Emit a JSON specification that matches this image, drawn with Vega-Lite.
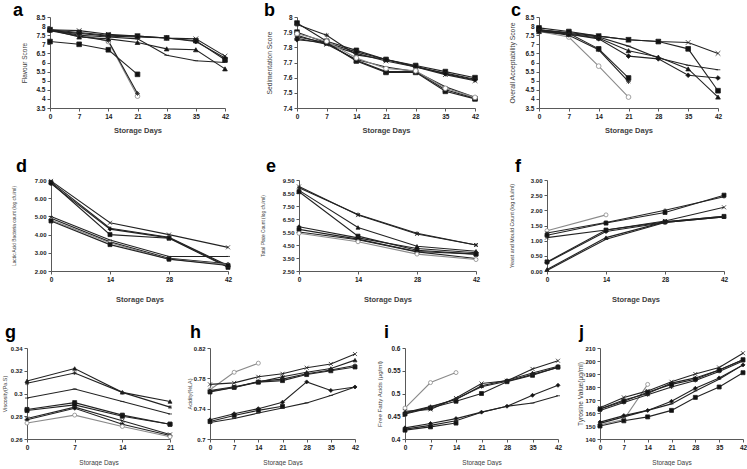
{
  "$schema": "https://vega.github.io/schema/vega-lite/v6.json",
  "padding": {"left": 1, "top": 2, "right": 0, "bottom": 0},
  "background": "white",
  "config": {
    "view": {"stroke": null},
    "font": "Liberation Sans",
    "axis": {"domainColor": "#595959", "tickColor": "#595959", "tickSize": 3, "labelFont": "Liberation Sans", "labelFontSize": 6.5, "labelFontWeight": "bold", "labelColor": "#1a1a1a", "labelPadding": 2, "labelOverlap": false, "labelFlush": false, "titleFont": "Liberation Sans", "titleFontWeight": "normal", "titleColor": "#404040", "grid": false},
    "axisX": {"titlePadding": 7, "titleFontSize": 6.5},
    "title": {"anchor": "start", "frame": "group", "fontSize": 18, "fontWeight": "bold", "font": "Liberation Sans", "color": "#000"},
    "concat": {"spacing": 0}
  },
  "datasets": {
    "a": [
      {"d":0,"s":"s1","v":7.8},{"d":7,"s":"s1","v":7.55},{"d":14,"s":"s1","v":7.15},{"d":21,"s":"s1","v":4.15},
      {"d":0,"s":"s2","v":7.75},{"d":7,"s":"s2","v":7.45},{"d":14,"s":"s2","v":7.2},{"d":21,"s":"s2","v":4.3},
      {"d":0,"s":"s3","v":7.15},{"d":7,"s":"s3","v":7.0},{"d":14,"s":"s3","v":6.7},{"d":21,"s":"s3","v":5.35},
      {"d":0,"s":"s4","v":7.8},{"d":7,"s":"s4","v":7.75},{"d":14,"s":"s4","v":7.55},{"d":21,"s":"s4","v":7.45},{"d":28,"s":"s4","v":7.35},{"d":35,"s":"s4","v":7.3},{"d":42,"s":"s4","v":6.35},
      {"d":0,"s":"s5","v":7.8},{"d":7,"s":"s5","v":7.65},{"d":14,"s":"s5","v":7.5},{"d":21,"s":"s5","v":7.45},{"d":28,"s":"s5","v":7.35},{"d":35,"s":"s5","v":7.2},{"d":42,"s":"s5","v":6.15},
      {"d":0,"s":"s6","v":7.75},{"d":7,"s":"s6","v":7.6},{"d":14,"s":"s6","v":7.45},{"d":21,"s":"s6","v":7.4},{"d":28,"s":"s6","v":7.35},{"d":35,"s":"s6","v":7.15},{"d":42,"s":"s6","v":6.25},
      {"d":0,"s":"s7","v":7.8},{"d":7,"s":"s7","v":7.4},{"d":14,"s":"s7","v":7.3},{"d":21,"s":"s7","v":7.1},{"d":28,"s":"s7","v":6.75},{"d":35,"s":"s7","v":6.7},{"d":42,"s":"s7","v":5.65},
      {"d":0,"s":"s8","v":7.8},{"d":7,"s":"s8","v":7.5},{"d":14,"s":"s8","v":7.4},{"d":21,"s":"s8","v":7.3},{"d":28,"s":"s8","v":6.4},{"d":35,"s":"s8","v":6.1},{"d":42,"s":"s8","v":6.0}
    ],
    "b": [
      {"d":0,"s":"s5","v":7.96},{"d":7,"s":"s5","v":7.84},{"d":14,"s":"s5","v":7.78},{"d":21,"s":"s5","v":7.72},{"d":28,"s":"s5","v":7.68},{"d":35,"s":"s5","v":7.64},{"d":42,"s":"s5","v":7.6},
      {"d":0,"s":"s2","v":7.95},{"d":7,"s":"s2","v":7.88},{"d":14,"s":"s2","v":7.75},{"d":21,"s":"s2","v":7.72},{"d":28,"s":"s2","v":7.67},{"d":35,"s":"s2","v":7.63},{"d":42,"s":"s2","v":7.59},
      {"d":0,"s":"s4","v":7.86},{"d":7,"s":"s4","v":7.82},{"d":14,"s":"s4","v":7.76},{"d":21,"s":"s4","v":7.71},{"d":28,"s":"s4","v":7.67},{"d":35,"s":"s4","v":7.62},{"d":42,"s":"s4","v":7.58},
      {"d":0,"s":"s6","v":7.85},{"d":7,"s":"s6","v":7.83},{"d":14,"s":"s6","v":7.77},{"d":21,"s":"s6","v":7.72},{"d":28,"s":"s6","v":7.675},{"d":35,"s":"s6","v":7.625},{"d":42,"s":"s6","v":7.585},
      {"d":0,"s":"s3","v":7.9},{"d":7,"s":"s3","v":7.83},{"d":14,"s":"s3","v":7.71},{"d":21,"s":"s3","v":7.635},{"d":28,"s":"s3","v":7.635},{"d":35,"s":"s3","v":7.51},{"d":42,"s":"s3","v":7.46},
      {"d":0,"s":"s8","v":7.88},{"d":7,"s":"s8","v":7.82},{"d":14,"s":"s8","v":7.72},{"d":21,"s":"s8","v":7.67},{"d":28,"s":"s8","v":7.64},{"d":35,"s":"s8","v":7.54},{"d":42,"s":"s8","v":7.47},
      {"d":0,"s":"s7","v":7.87},{"d":7,"s":"s7","v":7.83},{"d":14,"s":"s7","v":7.715},{"d":21,"s":"s7","v":7.64},{"d":28,"s":"s7","v":7.64},{"d":35,"s":"s7","v":7.52},{"d":42,"s":"s7","v":7.465},
      {"d":0,"s":"s1","v":7.89},{"d":7,"s":"s1","v":7.84},{"d":14,"s":"s1","v":7.73},{"d":21,"s":"s1","v":7.66},{"d":28,"s":"s1","v":7.645},{"d":35,"s":"s1","v":7.53},{"d":42,"s":"s1","v":7.47}
    ],
    "c": [
      {"d":0,"s":"s1","v":7.7},{"d":7,"s":"s1","v":7.4},{"d":14,"s":"s1","v":5.8},{"d":21,"s":"s1","v":4.1},
      {"d":0,"s":"s2","v":7.75},{"d":7,"s":"s2","v":7.5},{"d":14,"s":"s2","v":6.7},{"d":21,"s":"s2","v":4.95},
      {"d":0,"s":"s3","v":7.8},{"d":7,"s":"s3","v":7.6},{"d":14,"s":"s3","v":6.75},{"d":21,"s":"s3","v":5.15},
      {"d":0,"s":"s4","v":7.8},{"d":7,"s":"s4","v":7.65},{"d":14,"s":"s4","v":7.45},{"d":21,"s":"s4","v":7.25},{"d":28,"s":"s4","v":7.15},{"d":35,"s":"s4","v":7.1},{"d":42,"s":"s4","v":6.5},
      {"d":0,"s":"s5","v":7.9},{"d":7,"s":"s5","v":7.7},{"d":14,"s":"s5","v":7.45},{"d":21,"s":"s5","v":7.25},{"d":28,"s":"s5","v":7.15},{"d":35,"s":"s5","v":6.75},{"d":42,"s":"s5","v":4.45},
      {"d":0,"s":"s6","v":7.75},{"d":7,"s":"s6","v":7.55},{"d":14,"s":"s6","v":7.3},{"d":21,"s":"s6","v":6.35},{"d":28,"s":"s6","v":6.2},{"d":35,"s":"s6","v":5.3},{"d":42,"s":"s6","v":5.15},
      {"d":0,"s":"s7","v":7.7},{"d":7,"s":"s7","v":7.55},{"d":14,"s":"s7","v":7.35},{"d":21,"s":"s7","v":6.65},{"d":28,"s":"s7","v":6.3},{"d":35,"s":"s7","v":5.65},{"d":42,"s":"s7","v":4.1},
      {"d":0,"s":"s8","v":7.8},{"d":7,"s":"s8","v":7.6},{"d":14,"s":"s8","v":7.4},{"d":21,"s":"s8","v":6.9},{"d":28,"s":"s8","v":6.25},{"d":35,"s":"s8","v":5.85},{"d":42,"s":"s8","v":5.6}
    ],
    "d": [
      {"d":0,"s":"s4","v":6.95},{"d":14,"s":"s4","v":4.65},{"d":28,"s":"s4","v":4.0},{"d":42,"s":"s4","v":3.3},
      {"d":0,"s":"s2","v":6.9},{"d":14,"s":"s2","v":4.35},{"d":28,"s":"s2","v":3.85},{"d":42,"s":"s2","v":2.3},
      {"d":0,"s":"s3","v":6.85},{"d":14,"s":"s3","v":4.0},{"d":28,"s":"s3","v":3.8},{"d":42,"s":"s3","v":2.2},
      {"d":0,"s":"s6","v":6.8},{"d":14,"s":"s6","v":4.3},{"d":28,"s":"s6","v":3.82},{"d":42,"s":"s6","v":2.25},
      {"d":0,"s":"s8","v":5.0},{"d":14,"s":"s8","v":3.7},{"d":28,"s":"s8","v":2.8},{"d":42,"s":"s8","v":2.8},
      {"d":0,"s":"s7","v":4.9},{"d":14,"s":"s7","v":3.6},{"d":28,"s":"s7","v":2.7},{"d":42,"s":"s7","v":2.4},
      {"d":0,"s":"s1","v":4.8},{"d":14,"s":"s1","v":3.55},{"d":28,"s":"s1","v":2.65},{"d":42,"s":"s1","v":2.35},
      {"d":0,"s":"s5","v":4.75},{"d":14,"s":"s5","v":3.45},{"d":28,"s":"s5","v":2.65},{"d":42,"s":"s5","v":2.3}
    ],
    "e": [
      {"d":0,"s":"s4","v":9.0},{"d":14,"s":"s4","v":6.8},{"d":28,"s":"s4","v":5.35},{"d":42,"s":"s4","v":4.5},
      {"d":0,"s":"s2","v":8.9},{"d":14,"s":"s2","v":6.85},{"d":28,"s":"s2","v":5.4},{"d":42,"s":"s2","v":4.5},
      {"d":0,"s":"s7","v":8.7},{"d":14,"s":"s7","v":5.85},{"d":28,"s":"s7","v":4.4},{"d":42,"s":"s7","v":4.02},
      {"d":0,"s":"s3","v":8.6},{"d":14,"s":"s3","v":5.18},{"d":28,"s":"s3","v":4.1},{"d":42,"s":"s3","v":3.8},
      {"d":0,"s":"s6","v":5.9},{"d":14,"s":"s6","v":5.05},{"d":28,"s":"s6","v":4.23},{"d":42,"s":"s6","v":3.9},
      {"d":0,"s":"s5","v":5.7},{"d":14,"s":"s5","v":4.95},{"d":28,"s":"s5","v":4.0},{"d":42,"s":"s5","v":3.8},
      {"d":0,"s":"s8","v":5.5},{"d":14,"s":"s8","v":4.9},{"d":28,"s":"s8","v":3.97},{"d":42,"s":"s8","v":3.46},
      {"d":0,"s":"s1","v":5.4},{"d":14,"s":"s1","v":4.75},{"d":28,"s":"s1","v":3.8},{"d":42,"s":"s1","v":3.38}
    ],
    "f": [
      {"d":0,"s":"s1","v":1.33},{"d":14,"s":"s1","v":1.85},
      {"d":0,"s":"s2","v":1.25},{"d":14,"s":"s2","v":1.6},{"d":28,"s":"s2","v":2.0},{"d":42,"s":"s2","v":2.45},
      {"d":0,"s":"s3","v":1.18},{"d":14,"s":"s3","v":1.58},{"d":28,"s":"s3","v":1.93},{"d":42,"s":"s3","v":2.5},
      {"d":0,"s":"s4","v":1.1},{"d":14,"s":"s4","v":1.35},{"d":28,"s":"s4","v":1.65},{"d":42,"s":"s4","v":2.1},
      {"d":0,"s":"s5","v":0.3},{"d":14,"s":"s5","v":1.35},{"d":28,"s":"s5","v":1.62},{"d":42,"s":"s5","v":1.8},
      {"d":0,"s":"s6","v":0.28},{"d":14,"s":"s6","v":1.3},{"d":28,"s":"s6","v":1.6},{"d":42,"s":"s6","v":1.78},
      {"d":0,"s":"s7","v":0.05},{"d":14,"s":"s7","v":1.1},{"d":28,"s":"s7","v":1.62},{"d":42,"s":"s7","v":1.8},
      {"d":0,"s":"s8","v":0.02},{"d":14,"s":"s8","v":1.05},{"d":28,"s":"s8","v":1.6},{"d":42,"s":"s8","v":1.78}
    ],
    "g": [
      {"d":0,"s":"s7","v":0.311},{"d":7,"s":"s7","v":0.322},{"d":14,"s":"s7","v":0.301},{"d":21,"s":"s7","v":0.293},
      {"d":0,"s":"s2","v":0.309},{"d":7,"s":"s2","v":0.318},{"d":14,"s":"s2","v":0.301},{"d":21,"s":"s2","v":0.288},
      {"d":0,"s":"s8","v":0.296},{"d":7,"s":"s8","v":0.304},{"d":14,"s":"s8","v":0.293},{"d":21,"s":"s8","v":0.282},
      {"d":0,"s":"s3","v":0.286},{"d":7,"s":"s3","v":0.292},{"d":14,"s":"s3","v":0.281},{"d":21,"s":"s3","v":0.273},
      {"d":0,"s":"s5","v":0.285},{"d":7,"s":"s5","v":0.29},{"d":14,"s":"s5","v":0.28},{"d":21,"s":"s5","v":0.273},
      {"d":0,"s":"s4","v":0.278},{"d":7,"s":"s4","v":0.288},{"d":14,"s":"s4","v":0.276},{"d":21,"s":"s4","v":0.264},
      {"d":0,"s":"s6","v":0.277},{"d":7,"s":"s6","v":0.287},{"d":14,"s":"s6","v":0.273},{"d":21,"s":"s6","v":0.263},
      {"d":0,"s":"s1","v":0.274},{"d":7,"s":"s1","v":0.281},{"d":14,"s":"s1","v":0.271},{"d":21,"s":"s1","v":0.262}
    ],
    "h": [
      {"d":0,"s":"s1","v":0.765},{"d":7,"s":"s1","v":0.788},{"d":14,"s":"s1","v":0.8},
      {"d":0,"s":"s4","v":0.772},{"d":7,"s":"s4","v":0.774},{"d":14,"s":"s4","v":0.782},{"d":21,"s":"s4","v":0.786},{"d":28,"s":"s4","v":0.794},{"d":35,"s":"s4","v":0.799},{"d":42,"s":"s4","v":0.812},
      {"d":0,"s":"s7","v":0.764},{"d":7,"s":"s7","v":0.769},{"d":14,"s":"s7","v":0.775},{"d":21,"s":"s7","v":0.782},{"d":28,"s":"s7","v":0.788},{"d":35,"s":"s7","v":0.793},{"d":42,"s":"s7","v":0.804},
      {"d":0,"s":"s5","v":0.762},{"d":7,"s":"s5","v":0.768},{"d":14,"s":"s5","v":0.775},{"d":21,"s":"s5","v":0.777},{"d":28,"s":"s5","v":0.785},{"d":35,"s":"s5","v":0.79},{"d":42,"s":"s5","v":0.795},
      {"d":0,"s":"s2","v":0.763},{"d":7,"s":"s2","v":0.768},{"d":14,"s":"s2","v":0.776},{"d":21,"s":"s2","v":0.779},{"d":28,"s":"s2","v":0.786},{"d":35,"s":"s2","v":0.791},{"d":42,"s":"s2","v":0.797},
      {"d":0,"s":"s6","v":0.7253},{"d":7,"s":"s6","v":0.7333},{"d":14,"s":"s6","v":0.74},{"d":21,"s":"s6","v":0.7485},{"d":28,"s":"s6","v":0.7753},{"d":35,"s":"s6","v":0.764},{"d":42,"s":"s6","v":0.7686},
      {"d":0,"s":"s3","v":0.723},{"d":7,"s":"s3","v":0.7311},{"d":14,"s":"s3","v":0.7378},{"d":21,"s":"s3","v":0.7431},
      {"d":0,"s":"s8","v":0.7217},{"d":7,"s":"s8","v":0.727},{"d":14,"s":"s8","v":0.7342},{"d":21,"s":"s8","v":0.7409},{"d":28,"s":"s8","v":0.7476},{"d":35,"s":"s8","v":0.7574},{"d":42,"s":"s8","v":0.7686}
    ],
    "i": [
      {"d":0,"s":"s1","v":0.468},{"d":7,"s":"s1","v":0.524},{"d":14,"s":"s1","v":0.546},
      {"d":0,"s":"s4","v":0.461},{"d":7,"s":"s4","v":0.465},{"d":14,"s":"s4","v":0.49},{"d":21,"s":"s4","v":0.522},{"d":28,"s":"s4","v":0.528},{"d":35,"s":"s4","v":0.554},{"d":42,"s":"s4","v":0.572},
      {"d":0,"s":"s7","v":0.458},{"d":7,"s":"s7","v":0.4715},{"d":14,"s":"s7","v":0.4866},{"d":21,"s":"s7","v":0.517},{"d":28,"s":"s7","v":0.529},{"d":35,"s":"s7","v":0.545},{"d":42,"s":"s7","v":0.56},
      {"d":0,"s":"s5","v":0.455},{"d":7,"s":"s5","v":0.468},{"d":14,"s":"s5","v":0.483},{"d":21,"s":"s5","v":0.5},{"d":28,"s":"s5","v":0.526},{"d":35,"s":"s5","v":0.54},{"d":42,"s":"s5","v":0.558},
      {"d":0,"s":"s2","v":0.456},{"d":7,"s":"s2","v":0.47},{"d":14,"s":"s2","v":0.488},{"d":21,"s":"s2","v":0.515},{"d":28,"s":"s2","v":0.527},{"d":35,"s":"s2","v":0.542},{"d":42,"s":"s2","v":0.557},
      {"d":0,"s":"s6","v":0.4245},{"d":7,"s":"s6","v":0.434},{"d":14,"s":"s6","v":0.4448},{"d":21,"s":"s6","v":0.459},{"d":28,"s":"s6","v":0.472},{"d":35,"s":"s6","v":0.496},{"d":42,"s":"s6","v":0.518},
      {"d":0,"s":"s8","v":0.4217},{"d":7,"s":"s8","v":0.43},{"d":14,"s":"s8","v":0.44},{"d":21,"s":"s8","v":0.459},{"d":28,"s":"s8","v":0.472},{"d":35,"s":"s8","v":0.479},{"d":42,"s":"s8","v":0.495},
      {"d":0,"s":"s3","v":0.4195},{"d":7,"s":"s3","v":0.4267},{"d":14,"s":"s3","v":0.435}
    ],
    "j": [
      {"d":0,"s":"s1","v":151},{"d":7,"s":"s1","v":155},{"d":14,"s":"s1","v":182},
      {"d":0,"s":"s4","v":164},{"d":7,"s":"s4","v":172},{"d":14,"s":"s4","v":177},{"d":21,"s":"s4","v":184},{"d":28,"s":"s4","v":190},{"d":35,"s":"s4","v":195},{"d":42,"s":"s4","v":206},
      {"d":0,"s":"s7","v":163},{"d":7,"s":"s7","v":170},{"d":14,"s":"s7","v":175},{"d":21,"s":"s7","v":183},{"d":28,"s":"s7","v":187},{"d":35,"s":"s7","v":193},{"d":42,"s":"s7","v":201},
      {"d":0,"s":"s2","v":162},{"d":7,"s":"s2","v":168},{"d":14,"s":"s2","v":174},{"d":21,"s":"s2","v":180},{"d":28,"s":"s2","v":185},{"d":35,"s":"s2","v":192},{"d":42,"s":"s2","v":200},
      {"d":0,"s":"s5","v":163},{"d":7,"s":"s5","v":169},{"d":14,"s":"s5","v":176},{"d":21,"s":"s5","v":182},{"d":28,"s":"s5","v":186},{"d":35,"s":"s5","v":193},{"d":42,"s":"s5","v":201},
      {"d":0,"s":"s6","v":153},{"d":7,"s":"s6","v":158},{"d":14,"s":"s6","v":162},{"d":21,"s":"s6","v":169},{"d":28,"s":"s6","v":179},{"d":35,"s":"s6","v":187},{"d":42,"s":"s6","v":197},
      {"d":0,"s":"s8","v":152},{"d":7,"s":"s8","v":157},{"d":14,"s":"s8","v":162},{"d":21,"s":"s8","v":167},{"d":28,"s":"s8","v":177},{"d":35,"s":"s8","v":186},{"d":42,"s":"s8","v":197},
      {"d":0,"s":"s3","v":150},{"d":7,"s":"s3","v":154},{"d":14,"s":"s3","v":157},{"d":21,"s":"s3","v":162},{"d":28,"s":"s3","v":172},{"d":35,"s":"s3","v":180},{"d":42,"s":"s3","v":191}
    ],
    "blank": [{"k": 0}]
  },
  "vconcat": [
    {
      "hconcat": [
        {"width": 12, "height": 1, "data": {"name": "blank"}, "mark": {"type": "point", "opacity": 0, "size": 0}, "encoding": {}},
        {
          "width": 175, "height": 91, "data": {"name": "a"},
          "title": {"text": "a", "dx": -37, "offset": -6},
          "encoding": {
            "x": {"field": "d", "type": "quantitative", "scale": {"domain": [0, 42], "nice": false}, "axis": {"values": [0,7,14,21,28,35,42], "title": "Storage Days", "titleFontSize": 7.5, "titleFontWeight": "bold"}},
            "y": {"field": "v", "type": "quantitative", "scale": {"domain": [3.5, 8.5], "nice": false, "zero": false}, "axis": {"values": [3.5,4,4.5,5,5.5,6,6.5,7,7.5,8,8.5], "format": ".1~f", "title": "Flavour Score", "titleX": -23, "titleFontSize": 6.5}}
          },
          "layer": [
            {"mark": {"type": "line", "strokeWidth": 1.1}, "encoding": {"stroke": {"field": "s", "type": "nominal", "scale": {"domain": ["s1","s2","s3","s4","s5","s6","s7","s8"], "range": ["#8a8a8a","#222","#222","#222","#222","#222","#222","#222"]}, "legend": null}}},
            {"mark": {"type": "point", "filled": true, "size": 22, "strokeWidth": 0.8, "opacity": 1}, "encoding": {
              "shape": {"field": "s", "type": "nominal", "scale": {"domain": ["s1","s2","s3","s4","s5","s6","s7","s8"], "range": ["circle","M-1,0L1,0M0,-1L0,1M-0.7,-0.7L0.7,0.7M-0.7,0.7L0.7,-0.7","square","M-1,-1L1,1M-1,1L1,-1","square","diamond","triangle-up","M-1,0L1,0"]}, "legend": null},
              "fill": {"field": "s", "type": "nominal", "scale": {"domain": ["s1","s2","s3","s4","s5","s6","s7","s8"], "range": ["#fff","#111","#111","#111","#111","#111","#111","#111"]}, "legend": null},
              "stroke": {"field": "s", "type": "nominal", "legend": null}}}
          ]
        },
        {"width": 35, "height": 1, "data": {"name": "blank"}, "mark": {"type": "point", "opacity": 0, "size": 0}, "encoding": {}},
        {
          "width": 178, "height": 91, "data": {"name": "b"},
          "title": {"text": "b", "dx": -33, "offset": -6},
          "encoding": {
            "x": {"field": "d", "type": "quantitative", "scale": {"domain": [0, 42], "nice": false}, "axis": {"values": [0,7,14,21,28,35,42], "title": "Storage Days", "titleFontSize": 7.5, "titleFontWeight": "bold"}},
            "y": {"field": "v", "type": "quantitative", "scale": {"domain": [7.4, 8], "nice": false, "zero": false}, "axis": {"values": [7.4,7.5,7.6,7.7,7.8,7.9,8], "format": ".1~f", "title": "Sedimentation Score", "titleX": -25, "titleFontSize": 6.8}}
          },
          "layer": [
            {"mark": {"type": "line", "strokeWidth": 1.1}, "encoding": {"stroke": {"field": "s", "type": "nominal", "scale": {"domain": ["s1","s2","s3","s4","s5","s6","s7","s8"], "range": ["#222","#222","#222","#222","#222","#222","#222","#222"]}, "legend": null}}},
            {"mark": {"type": "point", "filled": true, "size": 22, "strokeWidth": 0.8, "opacity": 1}, "encoding": {
              "shape": {"field": "s", "type": "nominal", "scale": {"domain": ["s1","s2","s3","s4","s5","s6","s7","s8"], "range": ["circle","M-1,0L1,0M0,-1L0,1M-0.7,-0.7L0.7,0.7M-0.7,0.7L0.7,-0.7","square","M-1,-1L1,1M-1,1L1,-1","square","diamond","triangle-up","M-1,0L1,0"]}, "legend": null},
              "fill": {"field": "s", "type": "nominal", "scale": {"domain": ["s1","s2","s3","s4","s5","s6","s7","s8"], "range": ["#fff","#111","#111","#111","#111","#111","#111","#111"]}, "legend": null},
              "stroke": {"field": "s", "type": "nominal", "legend": null}}}
          ]
        },
        {"width": 29, "height": 1, "data": {"name": "blank"}, "mark": {"type": "point", "opacity": 0, "size": 0}, "encoding": {}},
        {
          "width": 179, "height": 91, "data": {"name": "c"},
          "title": {"text": "c", "dx": -28, "offset": -6},
          "encoding": {
            "x": {"field": "d", "type": "quantitative", "scale": {"domain": [0, 42], "nice": false}, "axis": {"values": [0,7,14,21,28,35,42], "title": "Storage Days", "titleFontSize": 7.5, "titleFontWeight": "bold"}},
            "y": {"field": "v", "type": "quantitative", "scale": {"domain": [3.5, 8.5], "nice": false, "zero": false}, "axis": {"values": [3.5,4,4.5,5,5.5,6,6.5,7,7.5,8,8.5], "format": ".1~f", "title": "Overall Acceptability Score", "titleX": -24, "titleFontSize": 6.8}}
          },
          "layer": [
            {"mark": {"type": "line", "strokeWidth": 1.1}, "encoding": {"stroke": {"field": "s", "type": "nominal", "scale": {"domain": ["s1","s2","s3","s4","s5","s6","s7","s8"], "range": ["#8a8a8a","#222","#222","#222","#222","#222","#222","#222"]}, "legend": null}}},
            {"mark": {"type": "point", "filled": true, "size": 22, "strokeWidth": 0.8, "opacity": 1}, "encoding": {
              "shape": {"field": "s", "type": "nominal", "scale": {"domain": ["s1","s2","s3","s4","s5","s6","s7","s8"], "range": ["circle","M-1,0L1,0M0,-1L0,1M-0.7,-0.7L0.7,0.7M-0.7,0.7L0.7,-0.7","square","M-1,-1L1,1M-1,1L1,-1","square","diamond","triangle-up","M-1,0L1,0"]}, "legend": null},
              "fill": {"field": "s", "type": "nominal", "scale": {"domain": ["s1","s2","s3","s4","s5","s6","s7","s8"], "range": ["#fff","#111","#111","#111","#111","#111","#111","#111"]}, "legend": null},
              "stroke": {"field": "s", "type": "nominal", "legend": null}}}
          ]
        }
      ]
    },
    {
      "vconcat": [
        {
          "hconcat": [
            {"width": 9, "height": 1, "data": {"name": "blank"}, "mark": {"type": "point", "opacity": 0, "size": 0}, "encoding": {}},
            {
              "width": 177, "height": 91, "data": {"name": "d"},
              "title": {"text": "d", "dx": -35, "offset": 1},
              "encoding": {
                "x": {"field": "d", "type": "quantitative", "scale": {"domain": [0, 42], "nice": false}, "axis": {"values": [0,14,28,42], "title": "Storage Days", "titleFontSize": 7.5, "titleFontWeight": "bold", "titlePadding": 13}},
                "y": {"field": "v", "type": "quantitative", "scale": {"domain": [2, 7], "nice": false, "zero": false}, "axis": {"values": [2,3,4,5,6,7], "format": ".2f", "title": "Lactic Acid Bacteria count (log cfu/ml)", "titleX": -35, "titleFontSize": 4.8, "labelFontSize": 6}}
              },
              "layer": [
                {"mark": {"type": "line", "strokeWidth": 1.1}, "encoding": {"stroke": {"field": "s", "type": "nominal", "scale": {"domain": ["s1","s2","s3","s4","s5","s6","s7","s8"], "range": ["#222","#222","#222","#222","#222","#222","#222","#222"]}, "legend": null}}},
                {"mark": {"type": "point", "filled": true, "size": 16, "strokeWidth": 0.8, "opacity": 1}, "encoding": {
                  "shape": {"field": "s", "type": "nominal", "scale": {"domain": ["s1","s2","s3","s4","s5","s6","s7","s8"], "range": ["circle","M-1,0L1,0M0,-1L0,1M-0.7,-0.7L0.7,0.7M-0.7,0.7L0.7,-0.7","square","M-1,-1L1,1M-1,1L1,-1","square","diamond","triangle-up","M-1,0L1,0"]}, "legend": null},
                  "fill": {"field": "s", "type": "nominal", "scale": {"domain": ["s1","s2","s3","s4","s5","s6","s7","s8"], "range": ["#111","#111","#111","#111","#111","#111","#111","#111"]}, "legend": null},
                  "stroke": {"field": "s", "type": "nominal", "legend": null}}}
              ]
            },
            {"width": 27, "height": 1, "data": {"name": "blank"}, "mark": {"type": "point", "opacity": 0, "size": 0}, "encoding": {}},
            {
              "width": 177, "height": 91, "data": {"name": "e"},
              "title": {"text": "e", "dx": -33, "offset": 1},
              "encoding": {
                "x": {"field": "d", "type": "quantitative", "scale": {"domain": [0, 42], "nice": false}, "axis": {"values": [0,14,28,42], "title": "Storage Days", "titleFontSize": 7.5, "titleFontWeight": "bold", "titlePadding": 13}},
                "y": {"field": "v", "type": "quantitative", "scale": {"domain": [2.5, 9.5], "nice": false, "zero": false}, "axis": {"values": [2.5,3.5,4.5,5.5,6.5,7.5,8.5,9.5], "format": ".2f", "title": "Total Plate Count (log cfu/ml)", "titleX": -34, "titleFontSize": 4.8, "labelFontSize": 6}}
              },
              "layer": [
                {"mark": {"type": "line", "strokeWidth": 1.1}, "encoding": {"stroke": {"field": "s", "type": "nominal", "scale": {"domain": ["s1","s2","s3","s4","s5","s6","s7","s8"], "range": ["#222","#222","#222","#222","#222","#222","#222","#222"]}, "legend": null}}},
                {"mark": {"type": "point", "filled": true, "size": 16, "strokeWidth": 0.8, "opacity": 1}, "encoding": {
                  "shape": {"field": "s", "type": "nominal", "scale": {"domain": ["s1","s2","s3","s4","s5","s6","s7","s8"], "range": ["circle","M-1,0L1,0M0,-1L0,1M-0.7,-0.7L0.7,0.7M-0.7,0.7L0.7,-0.7","square","M-1,-1L1,1M-1,1L1,-1","square","diamond","triangle-up","M-1,0L1,0"]}, "legend": null},
                  "fill": {"field": "s", "type": "nominal", "scale": {"domain": ["s1","s2","s3","s4","s5","s6","s7","s8"], "range": ["#111","#111","#111","#111","#111","#111","#111","#111"]}, "legend": null},
                  "stroke": {"field": "s", "type": "nominal", "legend": null}}}
              ]
            },
            {"width": 28, "height": 1, "data": {"name": "blank"}, "mark": {"type": "point", "opacity": 0, "size": 0}, "encoding": {}},
            {
              "width": 177, "height": 91, "data": {"name": "f"},
              "title": {"text": "f", "dx": -32, "offset": 1},
              "encoding": {
                "x": {"field": "d", "type": "quantitative", "scale": {"domain": [0, 42], "nice": false}, "axis": {"values": [0,14,28,42], "title": "Storage Days", "titleFontSize": 7.5, "titleFontWeight": "bold", "titlePadding": 13}},
                "y": {"field": "v", "type": "quantitative", "scale": {"domain": [0, 3], "nice": false, "zero": false}, "axis": {"values": [0,0.5,1,1.5,2,2.5,3], "format": ".2f", "title": "Yeast and Mould Count (log cfu/ml)", "titleX": -33, "titleFontSize": 5.4, "labelFontSize": 6}}
              },
              "layer": [
                {"mark": {"type": "line", "strokeWidth": 1.1}, "encoding": {"stroke": {"field": "s", "type": "nominal", "scale": {"domain": ["s1","s2","s3","s4","s5","s6","s7","s8"], "range": ["#8a8a8a","#222","#222","#222","#222","#222","#222","#222"]}, "legend": null}}},
                {"mark": {"type": "point", "filled": true, "size": 16, "strokeWidth": 0.8, "opacity": 1}, "encoding": {
                  "shape": {"field": "s", "type": "nominal", "scale": {"domain": ["s1","s2","s3","s4","s5","s6","s7","s8"], "range": ["circle","M-1,0L1,0M0,-1L0,1M-0.7,-0.7L0.7,0.7M-0.7,0.7L0.7,-0.7","square","M-1,-1L1,1M-1,1L1,-1","square","diamond","triangle-up","M-1,0L1,0"]}, "legend": null},
                  "fill": {"field": "s", "type": "nominal", "scale": {"domain": ["s1","s2","s3","s4","s5","s6","s7","s8"], "range": ["#fff","#111","#111","#111","#111","#111","#111","#111"]}, "legend": null},
                  "stroke": {"field": "s", "type": "nominal", "legend": null}}}
              ]
            }
          ]
        },
        {
          "hconcat": [
            {"width": 1, "height": 1, "data": {"name": "blank"}, "mark": {"type": "point", "opacity": 0, "size": 0}, "encoding": {}},
            {
              "width": 143, "height": 91, "data": {"name": "g"},
              "title": {"text": "g", "dx": -22, "offset": 3},
              "encoding": {
                "x": {"field": "d", "type": "quantitative", "scale": {"domain": [0, 21], "nice": false}, "axis": {"values": [0,7,14,21], "title": "Storage Days", "titlePadding": 9}},
                "y": {"field": "v", "type": "quantitative", "scale": {"domain": [0.26, 0.34], "nice": false, "zero": false}, "axis": {"values": [0.26,0.28,0.3,0.32,0.34], "format": ".2~f", "title": "Viscosity(Pa.S)", "titleX": -20, "titleFontSize": 5.4, "labelFontSize": 6}}
              },
              "layer": [
                {"mark": {"type": "line", "strokeWidth": 1.1}, "encoding": {"stroke": {"field": "s", "type": "nominal", "scale": {"domain": ["s1","s2","s3","s4","s5","s6","s7","s8"], "range": ["#222","#222","#222","#222","#222","#222","#222","#222"]}, "legend": null}}},
                {"mark": {"type": "point", "filled": true, "size": 16, "strokeWidth": 0.8, "opacity": 1}, "encoding": {
                  "shape": {"field": "s", "type": "nominal", "scale": {"domain": ["s1","s2","s3","s4","s5","s6","s7","s8"], "range": ["circle","M-1,0L1,0M0,-1L0,1M-0.7,-0.7L0.7,0.7M-0.7,0.7L0.7,-0.7","square","M-1,-1L1,1M-1,1L1,-1","square","diamond","triangle-up","M-1,0L1,0"]}, "legend": null},
                  "fill": {"field": "s", "type": "nominal", "scale": {"domain": ["s1","s2","s3","s4","s5","s6","s7","s8"], "range": ["#111","#111","#111","#111","#111","#111","#111","#111"]}, "legend": null},
                  "stroke": {"field": "s", "type": "nominal", "legend": null}}}
              ]
            },
            {"width": 13, "height": 1, "data": {"name": "blank"}, "mark": {"type": "point", "opacity": 0, "size": 0}, "encoding": {}},
            {
              "width": 145, "height": 91, "data": {"name": "h"},
              "title": {"text": "h", "dx": -20, "offset": 3},
              "encoding": {
                "x": {"field": "d", "type": "quantitative", "scale": {"domain": [0, 42], "nice": false}, "axis": {"values": [0,7,14,21,28,35,42], "title": "Storage Days", "titlePadding": 9}},
                "y": {"field": "v", "type": "quantitative", "scale": {"domain": [0.7, 0.82], "nice": false, "zero": false}, "axis": {"values": [0.7,0.74,0.78,0.82], "format": ".2~f", "title": "Acidity(%LA)", "titleX": -18, "titleFontSize": 5.4, "labelFontSize": 6}}
              },
              "layer": [
                {"mark": {"type": "line", "strokeWidth": 1.1}, "encoding": {"stroke": {"field": "s", "type": "nominal", "scale": {"domain": ["s1","s2","s3","s4","s5","s6","s7","s8"], "range": ["#8a8a8a","#222","#222","#222","#222","#222","#222","#222"]}, "legend": null}}},
                {"mark": {"type": "point", "filled": true, "size": 16, "strokeWidth": 0.8, "opacity": 1}, "encoding": {
                  "shape": {"field": "s", "type": "nominal", "scale": {"domain": ["s1","s2","s3","s4","s5","s6","s7","s8"], "range": ["circle","M-1,0L1,0M0,-1L0,1M-0.7,-0.7L0.7,0.7M-0.7,0.7L0.7,-0.7","square","M-1,-1L1,1M-1,1L1,-1","square","diamond","triangle-up","M-1,0L1,0"]}, "legend": null},
                  "fill": {"field": "s", "type": "nominal", "scale": {"domain": ["s1","s2","s3","s4","s5","s6","s7","s8"], "range": ["#fff","#111","#111","#111","#111","#111","#111","#111"]}, "legend": null},
                  "stroke": {"field": "s", "type": "nominal", "legend": null}}}
              ]
            },
            {"width": 17, "height": 1, "data": {"name": "blank"}, "mark": {"type": "point", "opacity": 0, "size": 0}, "encoding": {}},
            {
              "width": 153, "height": 91, "data": {"name": "i"},
              "title": {"text": "i", "dx": -21, "offset": 3},
              "encoding": {
                "x": {"field": "d", "type": "quantitative", "scale": {"domain": [0, 42], "nice": false}, "axis": {"values": [0,7,14,21,28,35,42], "title": "Storage Days", "titlePadding": 9}},
                "y": {"field": "v", "type": "quantitative", "scale": {"domain": [0.4, 0.6], "nice": false, "zero": false}, "axis": {"values": [0.4,0.45,0.5,0.55,0.6], "format": ".2~f", "title": "Free Fatty Acids (µg/ml)", "titleX": -23, "titleFontSize": 6.2, "labelFontSize": 6.5}}
              },
              "layer": [
                {"mark": {"type": "line", "strokeWidth": 1.1}, "encoding": {"stroke": {"field": "s", "type": "nominal", "scale": {"domain": ["s1","s2","s3","s4","s5","s6","s7","s8"], "range": ["#8a8a8a","#222","#222","#222","#222","#222","#222","#222"]}, "legend": null}}},
                {"mark": {"type": "point", "filled": true, "size": 16, "strokeWidth": 0.8, "opacity": 1}, "encoding": {
                  "shape": {"field": "s", "type": "nominal", "scale": {"domain": ["s1","s2","s3","s4","s5","s6","s7","s8"], "range": ["circle","M-1,0L1,0M0,-1L0,1M-0.7,-0.7L0.7,0.7M-0.7,0.7L0.7,-0.7","square","M-1,-1L1,1M-1,1L1,-1","square","diamond","triangle-up","M-1,0L1,0"]}, "legend": null},
                  "fill": {"field": "s", "type": "nominal", "scale": {"domain": ["s1","s2","s3","s4","s5","s6","s7","s8"], "range": ["#fff","#111","#111","#111","#111","#111","#111","#111"]}, "legend": null},
                  "stroke": {"field": "s", "type": "nominal", "legend": null}}}
              ]
            },
            {"width": 15, "height": 1, "data": {"name": "blank"}, "mark": {"type": "point", "opacity": 0, "size": 0}, "encoding": {}},
            {
              "width": 143, "height": 91, "data": {"name": "j"},
              "title": {"text": "j", "dx": -21, "offset": 3},
              "encoding": {
                "x": {"field": "d", "type": "quantitative", "scale": {"domain": [0, 42], "nice": false}, "axis": {"values": [0,7,14,21,28,35,42], "title": "Storage Days", "titlePadding": 9}},
                "y": {"field": "v", "type": "quantitative", "scale": {"domain": [140, 210], "nice": false, "zero": false}, "axis": {"values": [140,150,160,170,180,190,200,210], "format": "d", "title": "Tyrosine Value(µg/ml)", "titleX": -17, "titleFontSize": 6.6, "labelFontSize": 6}}
              },
              "layer": [
                {"mark": {"type": "line", "strokeWidth": 1.1}, "encoding": {"stroke": {"field": "s", "type": "nominal", "scale": {"domain": ["s1","s2","s3","s4","s5","s6","s7","s8"], "range": ["#8a8a8a","#222","#222","#222","#222","#222","#222","#222"]}, "legend": null}}},
                {"mark": {"type": "point", "filled": true, "size": 16, "strokeWidth": 0.8, "opacity": 1}, "encoding": {
                  "shape": {"field": "s", "type": "nominal", "scale": {"domain": ["s1","s2","s3","s4","s5","s6","s7","s8"], "range": ["circle","M-1,0L1,0M0,-1L0,1M-0.7,-0.7L0.7,0.7M-0.7,0.7L0.7,-0.7","square","M-1,-1L1,1M-1,1L1,-1","square","diamond","triangle-up","M-1,0L1,0"]}, "legend": null},
                  "fill": {"field": "s", "type": "nominal", "scale": {"domain": ["s1","s2","s3","s4","s5","s6","s7","s8"], "range": ["#fff","#111","#111","#111","#111","#111","#111","#111"]}, "legend": null},
                  "stroke": {"field": "s", "type": "nominal", "legend": null}}}
              ]
            }
          ]
        }
      ],
      "spacing": 21
    }
  ],
  "spacing": 24
}
